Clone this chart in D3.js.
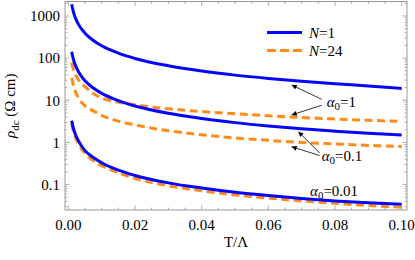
<!DOCTYPE html>
<html lang="en">
  <head>
    <meta charset="UTF-8" />
    <title>rho_dc vs T</title>
    <style>
      body {
        margin: 0;
        background: #fff;
      }
      text {
        font-family: "Liberation Serif", "DejaVu Serif", serif;
        fill: #000;
      }
    </style>
  </head>
  <body>
    <script src="https://d3js.org/d3.v7.min.js"></script>
    <script>

// temperatures T/Lambda shared by every curve
var temps = [0.001, 0.0015, 0.002, 0.003, 0.005, 0.0075, 0.01, 0.015, 0.02, 0.03, 0.04, 0.05, 0.06, 0.07, 0.08, 0.09, 0.1];

// N = 1 (blue, solid)
var blueA1   = [1900, 1270, 950, 640, 390, 262, 196, 131, 98, 66, 49.5, 39.5, 33, 28.3, 24.7, 21.8, 19];
var blueA01  = [142, 95, 72, 48, 29, 19.5, 14.6, 9.8, 7.3, 4.9, 3.7, 2.95, 2.45, 2.1, 1.85, 1.65, 1.5];
var blueA001 = [3.3, 2.2, 1.65, 1.1, 0.64, 0.44, 0.33, 0.22, 0.165, 0.11, 0.083, 0.066, 0.055, 0.047, 0.041, 0.037, 0.034];

// N = 24 (orange, dashed)
var orangeA1   = [78, 55, 43, 31, 21, 14.5, 11.3, 9, 7.8, 6.3, 5.4, 4.8, 4.3, 3.9, 3.6, 3.35, 3.15];
var orangeA01  = [34, 23, 17, 11.5, 7.4, 5.6, 4.4, 3.2, 2.6, 1.9, 1.52, 1.28, 1.12, 1.0, 0.92, 0.85, 0.8];
var orangeA001 = [2.8, 1.85, 1.4, 0.93, 0.55, 0.37, 0.28, 0.19, 0.14, 0.094, 0.071, 0.057, 0.048, 0.041, 0.036, 0.032, 0.029];

var xTicks = [0, 0.02, 0.04, 0.06, 0.08, 0.1];
var yTicks = [0.1, 1, 10, 100, 1000];

var W = 415, H = 260;
var pL = 65, pR = 407, pT = 1.5, pB = 210;

var svg = d3.select("body").append("svg")
  .attr("width", W)
  .attr("height", H);

var x = d3.scaleLinear().domain([-0.001, 0.1016]).range([pL, pR]);
var y = d3.scaleLog().domain([0.025, 2200]).range([pB, pT]);

var blue = "#0505ff", orange = "#ff8c1a";

// frame
svg.append("rect")
  .attr("x", pL).attr("y", pT)
  .attr("width", pR - pL).attr("height", pB - pT)
  .attr("fill", "none").attr("stroke", "#9a9a9a").attr("stroke-width", 1);

// ticks (inward, mirrored on top/right)
var xMinor = d3.range(0, 0.1001, 0.005);
var yMinor = [];
[0.01, 0.1, 1, 10, 100, 1000].forEach(function(d) {
  for (var k = 1; k < 10; k++) {
    var v = d * k;
    if (v >= 0.025 && v <= 2200) yMinor.push(v);
  }
});

var tickG = svg.append("g").attr("stroke", "#9a9a9a").attr("stroke-width", 0.8);

xMinor.forEach(function(d) {
  var major = xTicks.some(function(m) { return Math.abs(m - d) < 1e-9; });
  var len = major ? 4.5 : 2.5;
  tickG.append("line").attr("x1", x(d)).attr("x2", x(d)).attr("y1", pB).attr("y2", pB - len);
  tickG.append("line").attr("x1", x(d)).attr("x2", x(d)).attr("y1", pT).attr("y2", pT + len);
});

yMinor.forEach(function(d) {
  var major = yTicks.some(function(m) { return Math.abs(m / d - 1) < 1e-6; });
  var len = major ? 4.5 : 2.5;
  tickG.append("line").attr("y1", y(d)).attr("y2", y(d)).attr("x1", pL).attr("x2", pL + len);
  tickG.append("line").attr("y1", y(d)).attr("y2", y(d)).attr("x1", pR).attr("x2", pR - len);
});

// tick labels
svg.selectAll(".xl").data(xTicks).enter().append("text")
  .attr("x", function(d) { return x(d); })
  .attr("y", 230)
  .attr("text-anchor", "middle")
  .style("font-size", "15px")
  .text(function(d) { return d3.format(".2f")(d); });

svg.selectAll(".yl").data(yTicks).enter().append("text")
  .attr("x", 60)
  .attr("y", function(d) { return y(d); })
  .attr("dy", "0.35em")
  .attr("text-anchor", "end")
  .style("font-size", "15px")
  .text(function(d) { return String(d); });

// axis titles
svg.append("text")
  .attr("x", (pL + pR) / 2)
  .attr("y", 246.5)
  .attr("text-anchor", "middle")
  .style("font-size", "15px")
  .text("T/\u039B");

var yt = svg.append("text")
  .attr("transform", "translate(15," + ((pT + pB) / 2) + ") rotate(-90)")
  .attr("text-anchor", "middle")
  .style("font-size", "15px");
yt.append("tspan").style("font-style", "italic").text("\u03C1");
yt.append("tspan").attr("dy", 3.5).style("font-size", "11px").text("dc");
yt.append("tspan").attr("dy", -3.5).text(" (\u03A9 cm)");

// curves
var line = d3.line()
  .x(function(d) { return x(d[0]); })
  .y(function(d) { return y(d[1]); })
  .curve(d3.curveMonotoneX);

var series = [
  { vals: orangeA001, color: orange, dash: "8,4.5" },
  { vals: orangeA01,  color: orange, dash: "8,4.5" },
  { vals: orangeA1,   color: orange, dash: "8,4.5" },
  { vals: blueA001,   color: blue,   dash: null },
  { vals: blueA01,    color: blue,   dash: null },
  { vals: blueA1,     color: blue,   dash: null }
];

series.forEach(function(s) {
  svg.append("path")
    .datum(temps.map(function(t, i) { return [t, s.vals[i]]; }))
    .attr("d", line)
    .attr("fill", "none")
    .attr("stroke", s.color)
    .attr("stroke-width", 3)
    .attr("stroke-dasharray", s.dash);
});

// legend
var lg = svg.append("g");
lg.append("line").attr("x1", 267).attr("x2", 302).attr("y1", 32.5).attr("y2", 32.5)
  .attr("stroke", blue).attr("stroke-width", 3);
lg.append("line").attr("x1", 267).attr("x2", 302).attr("y1", 50.5).attr("y2", 50.5)
  .attr("stroke", orange).attr("stroke-width", 3).attr("stroke-dasharray", "9,4");
var l1 = lg.append("text").attr("x", 309).attr("y", 37.5).style("font-size", "15px");
l1.append("tspan").style("font-style", "italic").text("N");
l1.append("tspan").text("=1");
var l2 = lg.append("text").attr("x", 309).attr("y", 55.5).style("font-size", "15px");
l2.append("tspan").style("font-style", "italic").text("N");
l2.append("tspan").text("=24");

// annotations
svg.append("defs").append("marker")
  .attr("id", "ah")
  .attr("viewBox", "0 0 10 10")
  .attr("refX", 10).attr("refY", 5)
  .attr("markerWidth", 7).attr("markerHeight", 5)
  .attr("markerUnits", "userSpaceOnUse")
  .attr("orient", "auto")
  .append("path").attr("d", "M0,0 L10,5 L0,10 Z").attr("fill", "#000");

var notes = [
  { label: "1",    t: 0.0775, v: 7.0,   arrows: [ { t: 0.067, v: 23,  dx: -5, dy: -7.5 }, { t: 0.067, v: 4.5,  dx: -5, dy: -1.5 } ] },
  { label: "0.1",  t: 0.076,  v: 0.373, arrows: [ { t: 0.069, v: 1.8, dx: -2, dy: -7.5 }, { t: 0.067, v: 0.79, dx: -2, dy: -5 } ] },
  { label: "0.01", t: 0.0725, v: 0.054, arrows: [] }
];

notes.forEach(function(n) {
  var tx = x(n.t), ty = y(n.v);
  var tt = svg.append("text").attr("x", tx).attr("y", ty).style("font-size", "15px");
  tt.append("tspan").style("font-style", "italic").text("\u03B1");
  tt.append("tspan").attr("dy", 3).style("font-size", "11px").text("0");
  tt.append("tspan").attr("dy", -3).text("=" + n.label);
  n.arrows.forEach(function(a) {
    svg.append("line")
      .attr("x1", tx + a.dx).attr("y1", ty + a.dy)
      .attr("x2", x(a.t)).attr("y2", y(a.v))
      .attr("stroke", "#000").attr("stroke-width", 0.8)
      .attr("marker-end", "url(#ah)");
  });
});

    </script>
  </body>
</html>
